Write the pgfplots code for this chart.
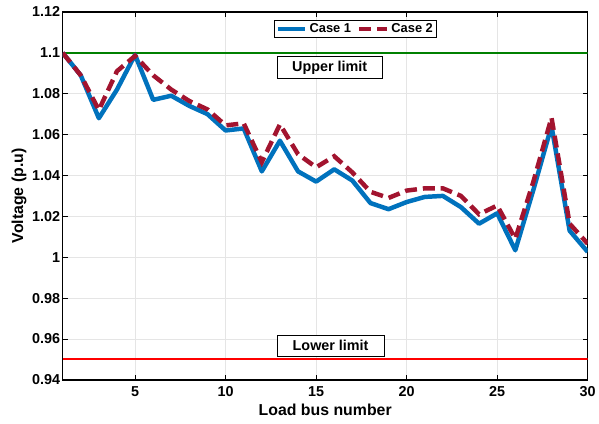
\documentclass[border=0pt]{standalone}
\usepackage{pgfplots}
\pgfplotsset{compat=1.18}
\usepackage{fontspec}
\setmainfont{Liberation Sans}
\definecolor{mblue}{RGB}{0,114,189}
\definecolor{mred}{RGB}{162,20,47}
\definecolor{mgreen}{RGB}{0,128,0}
\definecolor{pured}{RGB}{255,0,0}
\begin{document}
\begin{tikzpicture}
\begin{axis}[
  scale only axis,
  width=528bp, height=370bp,
  xmin=1, xmax=30, ymin=0.94, ymax=1.12,
  xtick={5,10,15,20,25,30},
  ytick={0.94,0.96,0.98,1,1.02,1.04,1.06,1.08,1.1,1.12},
  yticklabels={0.94,0.96,0.98,1,1.02,1.04,1.06,1.08,1.1,1.12},
  tick align=inside,
  xtick pos=both, ytick pos=both,
  major tick length=5bp,
  grid=major,
  grid style={gray!20, line width=0.8pt},
  axis line style={line width=1.3pt},
  every tick/.style={black, line width=0.8pt},
  ticklabel style={font=\bfseries\fontsize{14.5}{16}\selectfont},
  yticklabel style={xshift=1bp},
  xticklabel style={yshift=-3bp},
  /pgf/number format/assume math mode=true,
  xlabel={Load bus number},
  ylabel={Voltage (p.u)},
  label style={font=\bfseries\fontsize{16}{18}\selectfont},
  xlabel style={yshift=-1bp},
  ylabel style={yshift=-1bp},
  legend columns=2,
  legend style={at={(rel axis cs:0.557,0.954)}, anchor=center, draw=black, line width=0.6pt,
    font=\bfseries\fontsize{13}{14}\selectfont, inner sep=1pt,
    /tikz/every even column/.append style={column sep=4pt}},
  legend image code/.code={\draw[#1, line width=4.5bp] (0cm,0cm) -- (28bp,0cm);},
]
\addplot[draw=mgreen, line width=1.5bp, mark=none, forget plot] coordinates {(1,1.1) (30,1.1)};
\addplot[mblue, line width=4.5bp, line join=round] coordinates {
(1,1.100) (2,1.089) (3,1.068) (4,1.082) (5,1.099) (6,1.077) (7,1.079) (8,1.074) (9,1.070) (10,1.062)
(11,1.063) (12,1.042) (13,1.057) (14,1.042) (15,1.037) (16,1.043) (17,1.0375) (18,1.0265) (19,1.0235) (20,1.027)
(21,1.0295) (22,1.030) (23,1.0245) (24,1.0164) (25,1.0215) (26,1.0034) (27,1.033) (28,1.0642) (29,1.013) (30,1.0026)
};
\addlegendentry{Case 1}
\addplot[mred, line width=4.5bp, dash pattern=on 12bp off 6bp] coordinates {
(1,1.100) (2,1.089) (3,1.072) (4,1.091) (5,1.0985) (6,1.089) (7,1.082) (8,1.0764) (9,1.0723) (10,1.0645)
(11,1.0655) (12,1.0465) (13,1.065) (14,1.0504) (15,1.044) (16,1.0494) (17,1.0415) (18,1.032) (19,1.029) (20,1.0326)
(21,1.0337) (22,1.0337) (23,1.030) (24,1.021) (25,1.0253) (26,1.009) (27,1.037) (28,1.0683) (29,1.0164) (30,1.0066)
};
\addlegendentry{Case 2}
\addplot[color=red, solid, line width=2bp, mark=none, forget plot] coordinates {(1,0.95) (30,0.95)};
\node[draw=black, fill=white, line width=0.6pt, font=\bfseries\fontsize{14.5}{16}\selectfont, inner sep=2pt, minimum width=105bp, minimum height=22bp] at (axis cs:15.75,1.0927) {Upper limit};
\node[draw=black, fill=white, line width=0.6pt, font=\bfseries\fontsize{14.5}{16}\selectfont, inner sep=2pt, minimum width=107bp, minimum height=21bp] at (axis cs:15.8,0.9567) {Lower limit};
\end{axis}
\path[use as bounding box] ([shift={(-63bp,-44bp)}]current axis.south west) rectangle ([shift={(8bp,12bp)}]current axis.north east);
\end{tikzpicture}
\end{document}
